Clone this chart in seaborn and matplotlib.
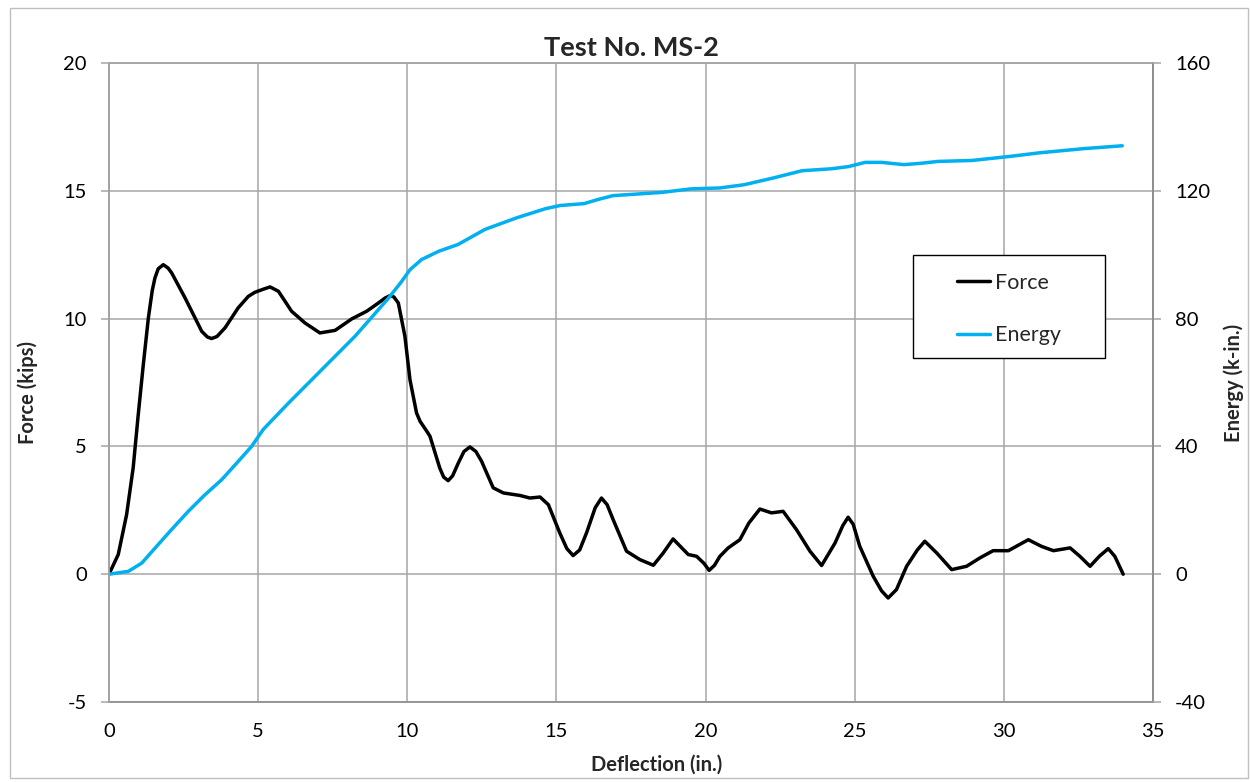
import pandas as pd
import matplotlib.pyplot as plt
import seaborn as sns
from matplotlib.patches import Rectangle

# -----------------------------
# Data
# -----------------------------
force_defl = [0.0, 0.31, 0.59, 0.81, 0.98, 1.15, 1.32, 1.45, 1.54, 1.65, 1.82, 1.98, 2.1,
              2.55, 3.11, 3.3, 3.44, 3.62, 3.89, 4.33, 4.67, 4.89, 5.17, 5.4, 5.68, 6.12,
              6.57, 7.07, 7.58, 8.14, 8.64, 9.03, 9.25, 9.42, 9.55, 9.7, 9.92, 10.09,
              10.31, 10.43, 10.65, 10.76, 11.09, 11.22, 11.37, 11.52, 11.71, 11.9, 12.1,
              12.3, 12.49, 12.88, 13.22, 13.78, 14.11, 14.45, 14.73, 15.11, 15.35, 15.56,
              15.78, 16.01, 16.3, 16.51, 16.7, 16.9, 17.35, 17.8, 18.25, 18.58, 18.91,
              19.42, 19.7, 19.95, 20.12, 20.3, 20.48, 20.76, 21.15, 21.45, 21.82, 22.21,
              22.6, 23.05, 23.5, 23.89, 24.34, 24.6, 24.78, 24.95, 25.17, 25.62, 25.9,
              26.12, 26.4, 26.74, 27.1, 27.35, 27.75, 28.25, 28.75, 29.2, 29.64, 30.15,
              30.82, 31.26, 31.66, 32.22, 32.55, 32.89, 33.2, 33.5, 33.72, 34.0]
force_kips = [0.0, 0.77, 2.33, 4.16, 6.24, 8.2, 10.03, 11.1, 11.59, 11.95, 12.11, 11.98, 11.79,
              10.81, 9.5, 9.28, 9.22, 9.3, 9.64, 10.42, 10.87, 11.03, 11.15, 11.24, 11.07, 10.29,
              9.83, 9.44, 9.54, 9.99, 10.29, 10.61, 10.8, 10.9, 10.85, 10.61, 9.31, 7.61,
              6.31, 5.98, 5.6, 5.4, 4.15, 3.8, 3.66, 3.85, 4.35, 4.8, 4.98,
              4.8, 4.42, 3.38, 3.18, 3.08, 2.98, 3.02, 2.72, 1.62, 1.0, 0.73,
              0.95, 1.62, 2.6, 2.98, 2.72, 2.14, 0.9, 0.57, 0.35, 0.83, 1.38,
              0.77, 0.7, 0.42, 0.15, 0.35, 0.7, 1.03, 1.35, 2.0, 2.55, 2.4,
              2.46, 1.74, 0.9, 0.34, 1.22, 1.9, 2.23, 1.95, 1.09, -0.08, -0.65,
              -0.93, -0.6, 0.31, 0.95, 1.29, 0.83, 0.18, 0.31, 0.64, 0.92, 0.92,
              1.35, 1.09, 0.92, 1.03, 0.7, 0.31, 0.7, 1.0, 0.7, 0.0]

energy_defl = [0.0, 0.65, 1.1, 1.65, 2.1, 2.66, 3.22, 3.78, 4.33, 4.78, 5.17, 6.01,
               7.13, 8.25, 9.36, 9.8, 10.09, 10.48, 11.06, 11.7, 12.6, 13.65, 14.63, 15.12,
               15.93, 16.4, 16.9, 18.53, 19.5, 20.48, 21.29, 22.26, 23.24, 24.22, 24.8,
               25.35, 25.9, 26.65, 27.2, 27.79, 28.93, 30.23, 31.2, 32.67, 33.97]
energy_kin = [0.0, 0.9, 3.5, 9.3, 14.0, 19.7, 24.9, 29.6, 35.3, 40.0, 45.3, 53.5,
              64.0, 74.5, 86.3, 91.5, 95.3, 98.5, 101.1, 103.2, 107.9, 111.5, 114.4, 115.4,
              116.0, 117.3, 118.5, 119.5, 120.6, 120.9, 121.9, 124.0, 126.3, 126.9, 127.6,
              128.9, 128.9, 128.2, 128.6, 129.2, 129.5, 130.8, 131.9, 133.2, 134.1]

force_df = pd.DataFrame({"deflection": force_defl, "force": force_kips})
energy_df = pd.DataFrame({"deflection": energy_defl, "energy": energy_kin})

# -----------------------------
# Plot
# -----------------------------
sns.set_style("white")
plt.rcParams["font.family"] = ["Lato", "DejaVu Sans"]
plt.rcParams["axes.unicode_minus"] = False

fig = plt.figure(figsize=(12.5, 7.82), dpi=100)
ax = fig.add_axes([0.0872, 0.1023, 0.8352, 0.8171])
ax2 = ax.twinx()

grid_col = "#a6a6a6"
ax.set_xlim(0, 35)
ax.set_ylim(-5, 20)
ax2.set_ylim(-40, 160)
ax.set_xticks(range(0, 36, 5))
ax.set_yticks(range(-5, 21, 5))
ax2.set_yticks(range(-40, 161, 40))
ax.grid(True, color=grid_col, linewidth=1.1)
ax.set_axisbelow(True)

sns.lineplot(data=force_df, x="deflection", y="force", ax=ax, color="black",
             linewidth=2.5, label="Force", legend=False,
             solid_joinstyle="round", solid_capstyle="round")
sns.lineplot(data=energy_df, x="deflection", y="energy", ax=ax2, color="#00b0f0",
             linewidth=2.5, label="Energy", legend=False,
             solid_joinstyle="round", solid_capstyle="round")

for a in (ax, ax2):
    for side in a.spines:
        a.spines[side].set_color(grid_col)
        a.spines[side].set_linewidth(1.1)
ax.spines["left"].set_color("#868686")
ax.spines["bottom"].set_color("#404040")
ax2.spines["right"].set_color("#868686")

ax.tick_params(axis="y", labelsize=14.5, length=6, width=1.1, color=grid_col,
               labelcolor="black", direction="out", pad=10)
ax.tick_params(axis="x", labelsize=14.5, length=0, labelcolor="black", pad=15)
ax2.tick_params(axis="y", labelsize=14.5, length=6, width=1.1, color=grid_col,
                labelcolor="black", direction="out", pad=10)

ax.set_xlabel("Deflection (in.)", fontsize=14.5, fontweight="bold")
ax.set_ylabel("Force (kips)", fontsize=14.5, fontweight="bold")
ax2.set_ylabel("Energy (k-in.)", fontsize=14.5, fontweight="bold")
ax.xaxis.set_label_coords(0.525, -0.083)
ax.yaxis.set_label_coords(-0.068, 0.484)
ax2.yaxis.set_label_coords(1.067, 0.5)
ax.set_title("Test No. MS-2", fontsize=19.5, fontweight="bold", pad=5)

# legend box and entries
ax2.add_patch(Rectangle((0.770, 0.538), 0.184, 0.161, transform=ax2.transAxes,
                        facecolor="white", edgecolor="black", linewidth=1.0,
                        zorder=5, clip_on=False))
lines = ax.get_lines()[-1:] + ax2.get_lines()[-1:]
leg = ax2.legend(lines, ["Force", "Energy"], loc="center left",
                 bbox_to_anchor=(0.8123, 0.615), frameon=False,
                 fontsize=15.5, labelspacing=1.5, handlelength=1.55,
                 handletextpad=0.23, borderpad=0, borderaxespad=0)
leg.set_zorder(6)

# chart area border
fig.patches.append(Rectangle((0.008, 0.005), 0.99, 0.985, transform=fig.transFigure,
                             fill=False, edgecolor="#bfbfbf", linewidth=1.0))

plt.savefig("out.png", dpi=100)
plt.close()
